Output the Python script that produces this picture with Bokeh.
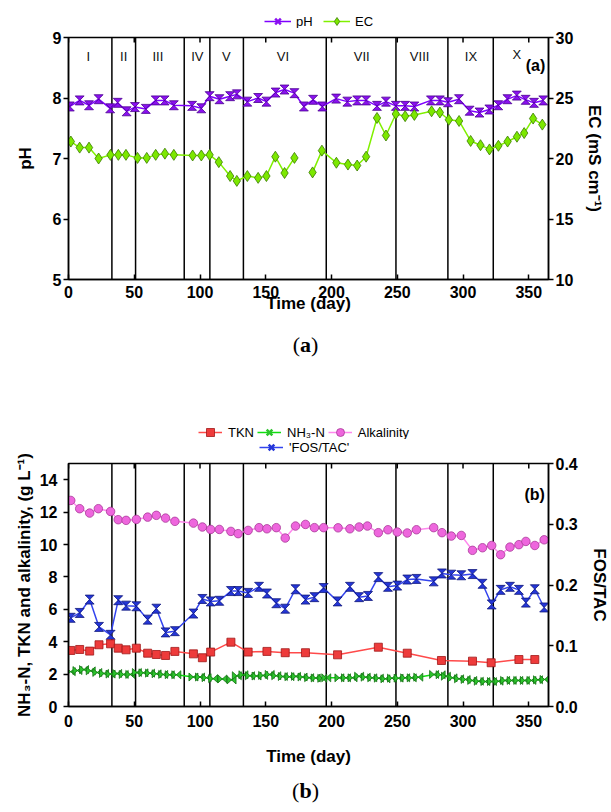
from bokeh.plotting import figure
from bokeh.models import (Range1d, LinearAxis, Label, Legend, LegendItem, Span, FixedTicker, Div)
from bokeh.layouts import column
from bokeh.embed import file_html
from bokeh.resources import INLINE
from bokeh.core.properties import value

nan = float("nan")

# ---------------- data: panel (a) ----------------
ph_day = [1, 8.5, 15.6, 22.9, 31.7, 37.4, 44.2, 50.5, 58.8, 66.3, 73.1, 80.1, 94, 101, 107.3,
          114.8, 122.9, 128, 136, 144.2, 150.5, 157.5, 164.3, 171.8, 179, 186, 193, 203.5, 212,
          219.5, 226.3, 234.6, 241.4, 248.9, 256, 263, 275.6, 282.4, 288.6, 296.9, 305, 312.5,
          320, 326.8, 333.8, 340.9, 347.6, 354, 361]
ph_val = [7.86, 7.96, 7.88, 7.98, 7.83, 7.92, 7.78, 7.85, 7.82, 7.96, 7.96, 7.88, 7.87, 7.83, 8.03,
          7.98, 8.03, 8.06, 7.94, 8.0, 7.94, 8.09, 8.14, 8.08, 7.86, 7.97, 7.86, 7.99, 7.94,
          7.96, 7.96, 7.87, 7.94, 7.87, 7.87, 7.86, 7.96, 7.96, 7.93, 7.98, 7.79, 7.76,
          7.81, 7.88, 7.98, 8.04, 7.97, 7.92, 7.96]
ec_day = [1.8, 8.5, 15.6, 22.9, 31.9, 37.9, 43.7, 52.5, 59.5, 66.3, 73.3, 80.1, 94.4, 101, 107.3,
          114.3, 122.9, 128, 136, 144.2, 150.5, 157.3, 164.3, 171.8, 179, 185.6, 192.7, 203.7,
          212.5, 219.5, 226.3, 234.6, 241.4, 248.9, 256, 263, 276.1, 282.4, 289.2, 297, 305.8,
          313.3, 320.1, 326.9, 333.9, 341, 346.5, 353.3, 360.3]
ec_val = [21.4, 20.9, 20.9, 20.0, 20.3, 20.3, 20.3, 20.05, 20.05, 20.3, 20.4, 20.3, 20.25, 20.25, 20.3,
          19.7, 18.55, 18.15, 18.55, 18.4, 18.55, 20.15, 18.8, 20.05, nan, 18.85, 20.65, 19.65,
          19.5, 19.42, 20.15, 23.35, 21.9, 23.68, 23.5, 23.6, 23.9, 23.8, 23.2, 23.1, 21.45,
          21.1, 20.75, 21.05, 21.4, 21.8, 22.1, 23.3, 22.8]

period_bounds = [33, 51, 88, 107.5, 133, 196, 249, 288.5, 323]
period_names = ["I", "II", "III", "IV", "V", "VI", "VII", "VIII", "IX", "X"]
period_pos = [15, 42, 68, 98, 120, 163, 223, 267, 306, 341]
period_y = [8.69, 8.69, 8.69, 8.69, 8.69, 8.69, 8.69, 8.69, 8.69, 8.72]

x_ticks = [0, 50, 100, 150, 200, 250, 300, 350]
ph_ticks = [5, 6, 7, 8, 9]
ec_ticks = [10, 15, 20, 25, 30]

# ---------------- data: panel (b) ----------------
tkn_day = [1.7, 8.5, 16.1, 23.2, 32, 37.8, 43.8, 51.6, 60.2, 66.8, 73.8, 80.9, 95, 101.8, 108.1,
           123.5, 136.6, 150.9, 164.8, 180.2, 204.6, 235.6, 257.6, 283.6, 307.2, 321.4, 342.5, 354.6]
tkn_val = [3.46, 3.52, 3.42, 3.81, 3.87, 3.6, 3.5, 3.6, 3.29, 3.21, 3.15, 3.4, 3.25, 3.01, 3.36,
           3.97, 3.36, 3.4, 3.32, 3.32, 3.19, 3.66, 3.29, 2.84, 2.8, 2.7, 2.9, 2.9]
nh3_day = [1.7, 6.8, 11.8, 16.9, 21.9, 27, 32, 37, 42, 47, 52, 57, 62, 67, 72, 77, 82, 95, 100, 105,
           110, 117, 124, 128, 133, 138, 143, 148, 153, 158, 163, 168, 173, 178, 183, 188, 193, 196,
           206, 211, 216, 221, 226, 231, 236, 241, 246, 251, 256, 261, 266, 278, 283, 287, 292, 297,
           302, 307, 312, 317, 322, 327, 332, 337, 342, 347, 352, 357, 362]
nh3_val = [2.15, 2.22, 2.28, 2.2, 2.1, 2.04, 2.0, 2.04, 1.98, 1.98, 2.1, 2.08, 2.06, 2.02, 1.98, 1.96,
           1.96, 1.82, 1.82, 1.78, 1.72, 1.7, 1.64, 1.9, 1.96, 1.9, 1.88, 1.92, 1.98, 1.9, 1.85, 1.84,
           1.86, 1.82, 1.78, 1.76, 1.74, 1.77, 1.77, 1.77, 1.77, 1.87, 1.81, 1.77, 1.75, 1.71, 1.75,
           1.75, 1.77, 1.77, 1.81, 1.98, 1.96, 1.87, 1.77, 1.71, 1.67, 1.61, 1.56, 1.54, 1.54, 1.56,
           1.61, 1.61, 1.61, 1.61, 1.61, 1.65, 1.67]
alk_day = [1.7, 8.5, 16.1, 22.7, 32, 37.8, 43.8, 51.6, 60.2, 66.8, 73.8, 80.9, 95, 101.8, 108.1,
           114.7, 123.5, 129, 136.6, 144.9, 150.9, 158, 164.8, 172.6, 180.2, 187, 194, 205, 214, 221,
           227.3, 235.6, 242.9, 250, 257.6, 264.6, 277.7, 284, 291.1, 298.7, 307.2, 314.8, 321.8,
           328.6, 335.7, 342.5, 347.8, 354.6, 361.7]
alk_val = [12.72, 12.21, 11.94, 12.21, 12.04, 11.53, 11.49, 11.55, 11.69, 11.8, 11.63, 11.43, 11.32,
           11.08, 10.93, 10.93, 10.81, 10.67, 10.87, 11.04, 10.97, 11.04, 10.4, 11.14, 11.24, 11.04,
           11.04, 11.03, 10.97, 11.08, 11.14, 10.73, 10.91, 10.77, 10.71, 10.91, 11.04, 10.73, 10.52,
           10.56, 9.64, 9.8, 9.94, 9.37, 9.84, 9.99, 10.19, 9.94, 10.29]
fos_day = [1.7, 8.5, 16.1, 23.2, 32, 37.8, 43.8, 51.6, 60.2, 66.8, 73.8, 80.9, 95, 101.8, 108.1,
           114.7, 123.5, 129, 136.6, 144.9, 150.9, 158, 164.8, 172.6, 180.2, 187, 194, 204.6, 214,
           221, 227.8, 235.6, 242.9, 250, 257.6, 264.6, 277.7, 284, 291.1, 298.7, 307.2, 314.8,
           321.8, 328.6, 335.7, 342.5, 347.8, 354.6, 361.7]
fos_val = [0.146, 0.154, 0.176, 0.131, 0.118, 0.175, 0.166, 0.165, 0.143, 0.161, 0.122, 0.124, 0.153,
           0.177, 0.173, 0.174, 0.190, 0.190, 0.187, 0.197, 0.186, 0.170, 0.161, 0.193, 0.176, 0.180,
           0.195, 0.173, 0.197, 0.180, 0.182, 0.213, 0.197, 0.199, 0.209, 0.210, 0.206, 0.219, 0.217,
           0.216, 0.218, 0.202, 0.168, 0.192, 0.197, 0.192, 0.171, 0.193, 0.163]

left_ticks_b = [0, 2, 4, 6, 8, 10, 12, 14]
fos_ticks = [0.0, 0.1, 0.2, 0.3, 0.4]
fos_tick_labels = ["0.0", "0.1", "0.2", "0.3", "0.4"]

# ---------------- styling ----------------
FONT = "Liberation Sans"
W = 611
XMAX = 365

PH_LINE, PH_FILL, PH_EDGE = "#7F00FF", "#8A10F0", "#4B0090"
EC_LINE, EC_FILL, EC_EDGE = "#80F000", "#7CE800", "#3A7A00"
TKN_LINE, TKN_FILL, TKN_EDGE = "#FF4A4A", "#EE3B3B", "#A01818"
NH_LINE, NH_FILL, NH_EDGE = "#10DD10", "#2CC42C", "#137013"
ALK_LINE, ALK_FILL, ALK_EDGE = "#FF88EE", "#EE66DD", "#A83A98"
FOS_LINE, FOS_FILL, FOS_EDGE = "#3344EE", "#2436D8", "#10187A"


def style_axis(ax, ticks, tick_in, tick_out, lab_standoff, title_standoff, overrides=None):
    ax.ticker = FixedTicker(ticks=ticks)
    ax.axis_line_width = 1.5
    ax.axis_line_color = "black"
    ax.major_tick_line_width = 1.5
    ax.major_tick_line_color = "black"
    ax.major_tick_in = tick_in
    ax.major_tick_out = tick_out
    ax.minor_tick_line_color = None
    ax.major_label_text_font = FONT
    ax.major_label_text_font_style = "bold"
    ax.major_label_text_font_size = "16px"
    ax.major_label_text_color = "black"
    ax.major_label_standoff = lab_standoff
    ax.axis_label_text_font = FONT
    ax.axis_label_text_font_style = "bold"
    ax.axis_label_text_font_size = "17px"
    ax.axis_label_text_color = "black"
    ax.axis_label_standoff = title_standoff
    if overrides:
        ax.major_label_overrides = overrides


def base_style(p):
    p.xgrid.visible = False
    p.ygrid.visible = False
    p.outline_line_color = "black"
    p.outline_line_width = 1.5
    p.background_fill_color = "white"
    p.border_fill_color = "white"


def top_ticks(p, ytop, ky):
    # inward tick marks on the top edge, at the x tick positions
    n = len(x_ticks)
    p.segment(x0=x_ticks, y0=[ytop] * n, x1=x_ticks, y1=[ytop - 5.0 / ky] * n,
              line_color="black", line_width=1.5)


def bowtie_shapes(xs, ys, hw_px, hh_px, kx, ky, horizontal=False):
    pxs, pys = [], []
    w = hw_px / kx
    h = hh_px / ky
    for x, y in zip(xs, ys):
        if y != y:
            continue
        if horizontal:
            pxs.append([x - w, x, x + w, x + w, x, x - w])
            pys.append([y + h, y, y + h, y - h, y, y - h])
        else:
            pxs.append([x - w, x + w, x, x + w, x - w, x])
            pys.append([y + h, y + h, y, y - h, y - h, y])
    return pxs, pys


def legend_fig(height, left, right):
    f = figure(width=W, height=height, x_range=Range1d(0, 1), y_range=Range1d(0, 1), title=None,
               x_axis_location=None, y_axis_location=None, output_backend="svg",
               toolbar_location=None, min_border_left=left, min_border_right=right,
               min_border_top=0, min_border_bottom=0)
    f.grid.visible = False
    f.outline_line_color = None
    f.background_fill_color = "white"
    f.border_fill_color = "white"
    return f


ITEM_H = 20


def make_legend(items, loc, glyph_w, standoff, spacing, label_w=20):
    return Legend(items=items, orientation="horizontal", location=loc,
                  glyph_width=glyph_w, glyph_height=ITEM_H, label_height=ITEM_H,
                  label_width=label_w, label_standoff=standoff, spacing=spacing,
                  padding=0, margin=0, border_line_alpha=0, background_fill_alpha=0,
                  label_text_font=FONT, label_text_font_size="13px", label_text_color="black")


def caption_div(letter, height, line_h):
    return Div(text="(<b>%s</b>)" % letter, width=W, height=height,
               styles={"text-align": "center", "font-family": "Liberation Serif",
                       "font-size": "22px", "line-height": "%dpx" % line_h,
                       "padding": "0px", "margin": "0px", "color": "black"})


# ================= geometry =================
LEGA_H = 28
L1, T1, FW1, FH1, B1 = 67, 9, 483, 242, 46
H1 = T1 + FH1 + B1
R1 = W - L1 - FW1
LEGB1_H = 66
LEGB2_H = 15
L2, T2, FW2, FH2, B2 = 68, 9, 482, 243, 72
H2 = T2 + FH2 + B2
R2 = W - L2 - FW2

# ================= legend (a) =================
legA = legend_fig(LEGA_H, L1, R1)
la_ph_l = legA.line([nan], [nan], line_color=PH_LINE, line_width=1.5)
la_ph_m = legA.scatter([nan], [nan], marker="x", size=8, line_color=PH_FILL, line_width=2.5)
la_ec_l = legA.line([nan], [nan], line_color=EC_LINE, line_width=1.5)
la_ec_m = legA.scatter([nan], [nan], marker="diamond", size=11, fill_color=EC_FILL,
                       line_color=EC_EDGE, line_width=0.8)
legA.add_layout(make_legend([LegendItem(label="pH", renderers=[la_ph_l, la_ph_m]),
                             LegendItem(label="EC", renderers=[la_ec_l, la_ec_m])],
                            (263 - L1, (LEGA_H - 21) - ITEM_H // 2), 27, 5, 7))

# ================= figure (a) =================
p1 = figure(width=W, height=H1, x_range=Range1d(0, XMAX), y_range=Range1d(5, 9), title=None,
            output_backend="svg", toolbar_location=None,
            min_border_left=L1, min_border_right=R1, min_border_top=T1, min_border_bottom=B1)
base_style(p1)
p1.extra_y_ranges = {"ec": Range1d(10, 30)}

style_axis(p1.xaxis[0], x_ticks, 5, 0, 6, -7)
p1.xaxis[0].axis_label = "Time (day)"
style_axis(p1.yaxis[0], ph_ticks, 0, 5, 2, 15)
p1.yaxis[0].axis_label = "pH"
ec_axis = LinearAxis(y_range_name="ec")
style_axis(ec_axis, ec_ticks, 0, 5, 2, 9)
ec_axis.axis_label = "EC (mS cm\u207b\u00b9)"
p1.add_layout(ec_axis, "right")

kx1 = FW1 / XMAX
ky_ph = FH1 / 4.0
top_ticks(p1, 9, ky_ph)

for b in period_bounds:
    p1.add_layout(Span(location=b, dimension="height", line_color="black", line_width=1.5,
                       level="underlay"))

p1.text(x=period_pos, y=period_y, text=period_names, text_font=value(FONT),
        text_font_size="13px", text_color="#111111", text_align="center", text_baseline="middle")
p1.add_layout(Label(x=362.5, y=8.54, text="(a)", text_font=FONT, text_font_size="16px",
                    text_font_style="bold", text_color="black", text_align="right",
                    text_baseline="middle"))

p1.line(ph_day, ph_val, line_color=PH_LINE, line_width=1.5)
hx, hy = bowtie_shapes(ph_day, ph_val, 4.5, 4.5, kx1, ky_ph)
p1.patches(hx, hy, fill_color=PH_FILL, line_color=PH_EDGE, line_width=0.8)

p1.line(ec_day, ec_val, line_color=EC_LINE, line_width=1.5, y_range_name="ec")
p1.scatter(ec_day, ec_val, marker="diamond", size=11, fill_color=EC_FILL,
           line_color=EC_EDGE, line_width=0.8, y_range_name="ec")

# ================= legend (b), row 1 =================
legB1 = legend_fig(LEGB1_H, L2, R2)
lb_tkn_l = legB1.line([nan], [nan], line_color=TKN_LINE, line_width=1.5)
lb_tkn_m = legB1.scatter([nan], [nan], marker="square", size=8, fill_color=TKN_FILL,
                         line_color=TKN_EDGE, line_width=0.8)
lb_nh_l = legB1.line([nan], [nan], line_color=NH_LINE, line_width=1.5)
lb_nh_m = legB1.scatter([nan], [nan], marker="x", size=8, line_color=NH_FILL, line_width=2.5)
lb_alk_l = legB1.line([nan], [nan], line_color=ALK_LINE, line_width=1.5)
lb_alk_m = legB1.scatter([nan], [nan], marker="circle", size=8.5, fill_color=ALK_FILL,
                         line_color=ALK_EDGE, line_width=0.8)
legB1.add_layout(make_legend([LegendItem(label="TKN", renderers=[lb_tkn_l, lb_tkn_m]),
                              LegendItem(label="NH\u2083-N", renderers=[lb_nh_l, lb_nh_m]),
                              LegendItem(label="Alkalinity", renderers=[lb_alk_l, lb_alk_m])],
                             (198 - L2, 7 - ITEM_H // 2), 24, 6, 3))

# ================= legend (b), row 2 (blank slot under TKN, then 'FOS/TAC') =================
legB2 = legend_fig(LEGB2_H, L2, R2)
lb_gap = legB2.line([nan], [nan], line_alpha=0)
lb_fos_l = legB2.line([nan], [nan], line_color=FOS_LINE, line_width=1.5)
lb_fos_m = legB2.scatter([nan], [nan], marker="x", size=8, line_color=FOS_FILL, line_width=2.5)
legB2.add_layout(make_legend([LegendItem(label=" ", renderers=[lb_gap]),
                              LegendItem(label="'FOS/TAC'", renderers=[lb_fos_l, lb_fos_m])],
                             (198 - L2, 7 - ITEM_H // 2), 24, 6, 3, label_w=28))

# ================= figure (b) =================
p2 = figure(width=W, height=H2, x_range=Range1d(0, XMAX), y_range=Range1d(0, 15), title=None,
            output_backend="svg", toolbar_location=None,
            min_border_left=L2, min_border_right=R2, min_border_top=T2, min_border_bottom=B2)
base_style(p2)
p2.extra_y_ranges = {"fos": Range1d(0, 0.4)}

style_axis(p2.xaxis[0], x_ticks, 5, 0, 8, 17)
p2.xaxis[0].axis_label = "Time (day)"
style_axis(p2.yaxis[0], left_ticks_b, 0, 5, 6, 3)
p2.yaxis[0].axis_label = "NH\u2083-N, TKN and alkalinity, (g L\u207b\u00b9)"
fos_axis = LinearAxis(y_range_name="fos")
style_axis(fos_axis, fos_ticks, 0, 5, 2, 9,
           overrides={t: s for t, s in zip(fos_ticks, fos_tick_labels)})
fos_axis.axis_label = "FOS/TAC"
p2.add_layout(fos_axis, "right")

kx2 = FW2 / XMAX
ky_l = FH2 / 15.0
ky_f = FH2 / 0.4
top_ticks(p2, 15, ky_l)

for b in period_bounds:
    p2.add_layout(Span(location=b, dimension="height", line_color="black", line_width=1.5,
                       level="underlay"))

p2.add_layout(Label(x=362.2, y=13.09, text="(b)", text_font=FONT, text_font_size="16px",
                    text_font_style="bold", text_color="black", text_align="right",
                    text_baseline="middle"))

p2.line(alk_day, alk_val, line_color=ALK_LINE, line_width=1.5)
p2.scatter(alk_day, alk_val, marker="circle", size=8.5, fill_color=ALK_FILL,
           line_color=ALK_EDGE, line_width=0.8)

p2.line(fos_day, fos_val, line_color=FOS_LINE, line_width=1.5, y_range_name="fos")
fx, fy = bowtie_shapes(fos_day, fos_val, 4.5, 4.5, kx2, ky_f)
p2.patches(fx, fy, fill_color=FOS_FILL, line_color=FOS_EDGE, line_width=0.8, y_range_name="fos")

p2.line(tkn_day, tkn_val, line_color=TKN_LINE, line_width=1.5)
p2.scatter(tkn_day, tkn_val, marker="square", size=8, fill_color=TKN_FILL,
           line_color=TKN_EDGE, line_width=0.8)

p2.line(nh3_day, nh3_val, line_color=NH_LINE, line_width=1.5)
nx, ny = bowtie_shapes(nh3_day, nh3_val, 4.5, 4.0, kx2, ky_l, horizontal=True)
p2.patches(nx, ny, fill_color=NH_FILL, line_color=NH_EDGE, line_width=0.8)

CAP_A_H = 48
CAP_B_H = 812 - (LEGA_H + H1 + CAP_A_H + LEGB1_H + LEGB2_H + H2)
layout = column(legA, p1, caption_div("a", CAP_A_H, 40), legB1, legB2, p2,
                caption_div("b", CAP_B_H, 2 * (796 - 5 - (812 - CAP_B_H))), spacing=0)
open("out.html", "w").write(file_html(layout, INLINE))
